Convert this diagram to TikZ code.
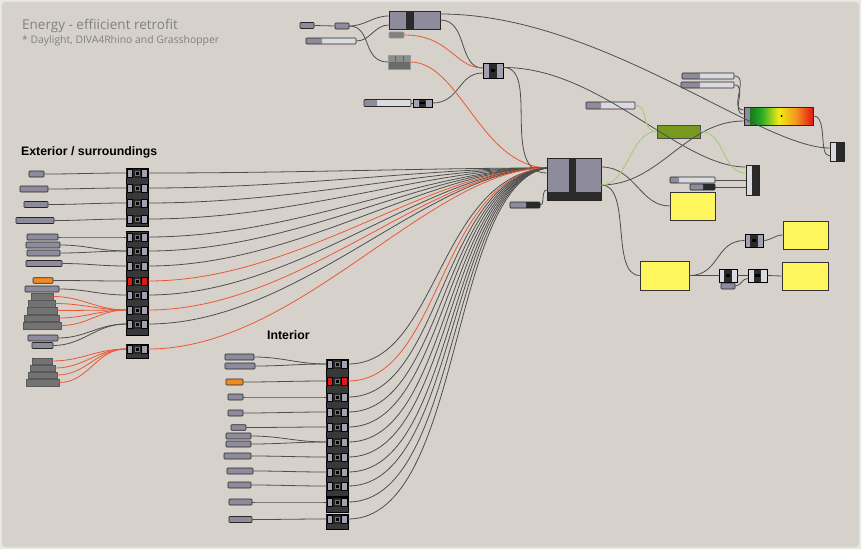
\documentclass[tikz,border=0pt]{standalone}
\usepackage{fontspec}
\setmainfont{Liberation Sans}
\newfontfamily\titlefont{Open Sans}
\usepackage{tikz}
\usetikzlibrary{calc}

\definecolor{frame}{RGB}{233,231,227}
\definecolor{panel}{RGB}{214,210,203}
\definecolor{paramfill}{RGB}{142,140,156}
\definecolor{paramlt}{RGB}{218,218,225}
\definecolor{compdk}{RGB}{42,42,42}
\definecolor{complt}{RGB}{163,161,176}
\definecolor{orangebox}{RGB}{242,138,36}
\definecolor{redbox}{RGB}{220,26,26}
\definecolor{wiredk}{RGB}{78,78,78}
\definecolor{wirered}{RGB}{234,88,52}
\definecolor{wiregreen}{RGB}{168,202,118}
\definecolor{panelyel}{RGB}{255,245,92}
\definecolor{greenbox}{RGB}{118,153,30}
\definecolor{heatA}{RGB}{8,100,20}
\definecolor{heatB}{RGB}{40,170,40}
\definecolor{heatC}{RGB}{240,236,20}
\definecolor{heatD}{RGB}{245,150,30}
\definecolor{heatE}{RGB}{228,20,20}
\pgfdeclarehorizontalshading{heat}{100bp}{color(0bp)=(heatA); color(25bp)=(heatA); color(37.5bp)=(heatB); color(50bp)=(heatC); color(62.5bp)=(heatD); color(75bp)=(heatE); color(100bp)=(heatE)}

\tikzset{
  param/.style={draw=black!85, fill=paramfill, rounded corners=0.8pt, inner sep=0pt, minimum height=6pt, line width=0.6pt},
  stackbox/.style={draw=black!65, fill=black!55, inner sep=0pt, minimum height=6.5pt, line width=0.5pt},
  slider/.style={param, fill=paramlt, path picture={\fill[paramfill] (path picture bounding box.south west) rectangle ([xshift=#1]path picture bounding box.north west);}},
  toggle/.style={param, fill=compdk, path picture={\fill[paramfill] (path picture bounding box.south west) rectangle ([xshift=#1]path picture bounding box.north west);}},
  comp/.style={fill=black!85, inner sep=0pt, minimum width=22pt, minimum height=9pt, path picture={
    \filldraw[fill=#1, draw=black] ([xshift=1pt,yshift=0.5pt]path picture bounding box.south west) rectangle ++(5.5pt,8pt);
    \filldraw[fill=#1, draw=black] ([xshift=-1pt,yshift=0.5pt]path picture bounding box.south east) rectangle ++(-5.5pt,8pt);
    \filldraw[fill=black, draw=black!55] ([shift={(-2.2pt,-2.2pt)}]path picture bounding box.center) rectangle ++(4.4pt,4.4pt);}},
  comp/.default=complt,
  mini/.style={draw=black, fill=compdk, inner sep=0pt, line width=0.6pt, path picture={
    \fill[#1] (path picture bounding box.south west) rectangle ($(path picture bounding box.north west)!0.3!(path picture bounding box.north east)$);
    \fill[#1] (path picture bounding box.south east) rectangle ($(path picture bounding box.north east)!0.3!(path picture bounding box.north west)$);
    \fill[black] ($(path picture bounding box.south west)!0.38!(path picture bounding box.north east)$) rectangle ($(path picture bounding box.south west)!0.62!(path picture bounding box.north east)$);}},
  mini/.default=complt,
  split/.style={draw=black!85, fill=paramlt, line width=0.7pt, inner sep=0pt, path picture={\fill[compdk] ([xshift=#1]path picture bounding box.north west) rectangle (path picture bounding box.south east);}},
  yelpanel/.style={draw=black!80, fill=panelyel, line width=0.8pt, inner sep=0pt},
  wire/.style={draw=wiredk, line width=0.8pt},
  redwire/.style={draw=wirered, line width=0.8pt},
  greenwire/.style={draw=wiregreen, line width=0.9pt}
}

\begin{document}
\begin{tikzpicture}[x=1pt,y=-1pt]
\useasboundingbox (0,0) rectangle (861,549);
\fill[frame] (0,0) rectangle (861,549);
\filldraw[fill=panel,draw=black!18,rounded corners=4pt] (2,2) rectangle (859,547);

% titles
\node[anchor=base west,text=black!50,font=\titlefont\fontsize{13.5}{16}\selectfont,inner sep=0pt] (title) at (22,29) {Energy - effiicient retrofit};
\node[anchor=base west,text=black!50,font=\titlefont\fontsize{10.4}{12}\selectfont,inner sep=0pt] (subtitle) at (22,43) {* Daylight, DIVA4Rhino and Grasshopper};
\node[anchor=base west,font=\bfseries\fontsize{12.3}{14}\selectfont,inner sep=0pt] (exterior) at (21,155) {Exterior / surroundings};
\node[anchor=base west,font=\bfseries\fontsize{12.3}{14}\selectfont,inner sep=0pt] (interior) at (267,339) {Interior};

% top cluster
\node[param, minimum width=14pt] (topa) at (307,25.5) {};
\node[param, minimum width=14pt] (topb) at (342,26) {};
\node[slider=16pt, minimum width=50pt] (topsl) at (331,41) {};
\node[draw=black!85, fill=paramfill, line width=0.7pt, minimum width=51pt, minimum height=18pt, inner sep=0pt, path picture={\fill[compdk] ([xshift=17pt]path picture bounding box.north west) rectangle ([xshift=25pt]path picture bounding box.south west);}] (bigtop) at (414.5,20) {};
\node[param, fill=black!50, draw=black!40, minimum width=15pt] (topsm) at (396.5,35) {};
\node[draw=black!40, fill=black!58, minimum width=22pt, minimum height=14pt, inner sep=0pt, path picture={
  \fill[black!45] (path picture bounding box.north west) rectangle ([yshift=7pt]path picture bounding box.south east);
  \draw[black!62] ([xshift=7pt]path picture bounding box.north west) -- ++(0,-7pt);
  \draw[black!62] ([xshift=15pt]path picture bounding box.north west) -- ++(0,-7pt);}] (topgrey) at (399,62) {};
\node[mini, minimum width=20pt, minimum height=15pt] (midc) at (493,70.5) {};
\node[slider=13pt, minimum width=47pt, minimum height=7pt] (lowsl) at (387.5,103) {};
\node[mini, minimum width=19pt, minimum height=8pt] (lowc) at (422.5,103) {};

% central component
\node[draw=black!85, fill=paramfill, line width=0.7pt, minimum width=54pt, minimum height=42pt, inner sep=0pt, path picture={
  \fill[compdk] ([xshift=22pt]path picture bounding box.north west) rectangle ([xshift=29pt,yshift=8pt]path picture bounding box.south west);
  \fill[compdk] (path picture bounding box.south west) rectangle ([yshift=8pt]path picture bounding box.south east);}] (cen) at (574,179) {};
\node[toggle=16pt, minimum width=30pt] (censl) at (525,205) {};

% right side
\node[slider=18pt, minimum width=52pt] (rsl1) at (708,76) {};
\node[slider=19pt, minimum width=53pt] (rsl2) at (707.5,85) {};
\node[draw=black!85, fill=paramfill, line width=0.7pt, minimum width=69pt, minimum height=18pt, inner sep=0pt, path picture={
  \shade[shading=heat] ([xshift=6pt]path picture bounding box.south west) rectangle (path picture bounding box.north east);
  \fill[black] ([xshift=3pt]path picture bounding box.center) circle (1pt);}] (grad) at (778.5,116) {};
\node[split=6pt, minimum width=14pt, minimum height=19pt] (rcomp) at (837,151.5) {};
\node[draw=black!70, fill=greenbox, minimum width=43pt, minimum height=13pt, inner sep=0pt, line width=0.7pt] (green) at (678.5,131.5) {};
\node[slider=15pt, minimum width=49pt, minimum height=7pt] (msl) at (610.5,105.5) {};
\node[split=6pt, minimum width=13pt, minimum height=30pt] (vcomp) at (752.5,180) {};
\node[slider=9pt, minimum width=45pt] (sla) at (692.5,180) {};
\node[toggle=13pt, minimum width=25pt] (slb) at (702.5,187) {};
\node[yelpanel, minimum width=45pt, minimum height=28pt] (yel1) at (692.5,206) {};
\node[yelpanel, minimum width=45pt, minimum height=28pt] (yel2) at (805.5,235) {};
\node[yelpanel, minimum width=49pt, minimum height=29pt] (yel3) at (664.5,275.5) {};
\node[yelpanel, minimum width=46pt, minimum height=28pt] (yel4) at (805,276) {};
\node[mini, minimum width=18pt, minimum height=13pt] (c1) at (754,240.5) {};
\node[mini=paramlt, minimum width=18pt, minimum height=13pt] (c2) at (728,275.5) {};
\node[mini=paramlt, minimum width=19pt, minimum height=13pt] (c3) at (757.5,275.5) {};
\node[param, minimum width=14pt] (csl) at (728,286) {};

% exterior column
\filldraw[fill=black!78,draw=black] (126,168) rectangle (148,226.5);
\filldraw[fill=black!78,draw=black] (126,231.5) rectangle (148,335);
\filldraw[fill=black!78,draw=black] (126,344.5) rectangle (148,358.5);
\node[comp] (ext1) at (137,173) {};
\node[comp] (ext2) at (137,188) {};
\node[comp] (ext3) at (137,203) {};
\node[comp] (ext4) at (137,219) {};
\node[comp] (ext5) at (137,237) {};
\node[comp] (ext6) at (137,251) {};
\node[comp] (ext7) at (137,266) {};
\node[comp=redbox] (ext8) at (137,281) {};
\node[comp] (ext9) at (137,295) {};
\node[comp] (ext10) at (137,310) {};
\node[comp] (ext11) at (137,324) {};
\node[comp] (ext12) at (137,349) {};

\node[param, minimum width=15pt] (e1) at (36.5,174) {};
\node[param, minimum width=28pt] (e2) at (34,189) {};
\node[param, minimum width=24pt] (e3) at (36,204.5) {};
\node[param, minimum width=38pt] (e4) at (35,220.5) {};
\node[param, minimum width=31pt] (e5) at (42.5,237) {};
\node[param, minimum width=34pt] (e6) at (43,245) {};
\node[param, minimum width=33pt] (e7) at (43.5,253) {};
\node[param, minimum width=36pt] (e8) at (44,263.5) {};
\node[param, fill=orangebox, minimum width=20pt, minimum height=5.5pt] (eor) at (43,280.5) {};
\node[param, minimum width=34pt] (e9) at (42,289) {};
\node[stackbox, minimum width=22pt] (s1) at (42,296.5) {};
\node[stackbox, minimum width=27pt] (s2) at (41.5,303.5) {};
\node[stackbox, minimum width=30pt] (s3) at (42,310.5) {};
\node[stackbox, minimum width=35pt] (s4) at (41.5,318) {};
\node[stackbox, minimum width=38pt, minimum height=7pt] (s5) at (42,325.5) {};
\node[param, minimum width=30pt] (e10) at (43,338) {};
\node[param, minimum width=21pt] (e11) at (42.5,345.5) {};
\node[stackbox, minimum width=20pt] (t1) at (42,361) {};
\node[stackbox, minimum width=25pt] (t2) at (42.5,368) {};
\node[stackbox, minimum width=29pt] (t3) at (42.5,375) {};
\node[stackbox, minimum width=33pt, minimum height=7pt] (t4) at (42.5,382.5) {};

% interior column
\filldraw[fill=black!78,draw=black] (326,359.5) rectangle (348,496);
\filldraw[fill=black!78,draw=black] (326,497.5) rectangle (348,512.5);
\filldraw[fill=black!78,draw=black] (326,514.5) rectangle (348,529.5);
\node[comp] (int1) at (337,364) {};
\node[comp=redbox] (int2) at (337,381) {};
\node[comp] (int3) at (337,397) {};
\node[comp] (int4) at (337,412) {};
\node[comp] (int5) at (337,427) {};
\node[comp] (int6) at (337,442) {};
\node[comp] (int7) at (337,457) {};
\node[comp] (int8) at (337,472) {};
\node[comp] (int9) at (337,486) {};
\node[comp] (int10) at (337,502) {};
\node[comp] (int11) at (337,519) {};

\node[param, minimum width=29pt] (n1a) at (239.5,357) {};
\node[param, minimum width=30pt] (n1b) at (240,366) {};
\node[param, fill=orangebox, minimum width=17pt] (nor) at (234.5,382) {};
\node[param, minimum width=15pt] (n3) at (235.5,397) {};
\node[param, minimum width=15pt] (n4) at (235.5,413) {};
\node[param, minimum width=15pt, minimum height=5.5pt] (n5) at (238.5,427.5) {};
\node[param, minimum width=25pt] (n6a) at (238.5,436) {};
\node[param, minimum width=25pt] (n6b) at (238.5,444) {};
\node[param, minimum width=27pt] (n7) at (237.5,456) {};
\node[param, minimum width=26pt] (n8) at (240,471) {};
\node[param, minimum width=23pt] (n9) at (239.5,485) {};
\node[param, minimum width=23pt] (n10) at (240.5,502) {};
\node[param, minimum width=23pt] (n11) at (240.5,519.5) {};

% wires top cluster
\draw[wire] (topa.east) -- (topb.west);
\draw[wire] (topb.east) to[out=0,in=180] ([yshift=4pt]bigtop.west);
\draw[wire] (topb.east) .. controls (372,26) and (362,62) .. (topgrey.west);
\draw[wire] (topsl.east) to[out=0,in=180] ([yshift=-5pt]bigtop.west);
\draw[wire] (bigtop.east) .. controls (468,20) and (458,68) .. ([yshift=2.5pt]midc.west);
\draw[redwire] (topsm.east) .. controls (450,35) and (455,68) .. ([yshift=2.5pt]midc.west);
\draw[wire] (lowsl.east) -- (lowc.west);
\draw[wire] (lowc.east) .. controls (460,103) and (458,73) .. ([yshift=-2.5pt]midc.west);
\draw[redwire] (topgrey.east) .. controls (460,62) and (480,165) .. ([yshift=11pt]cen.west);
\draw[wire] ([yshift=3pt]midc.east) .. controls (540,67) and (500,173) .. ([yshift=6pt]cen.west);
\draw[wire] ([yshift=6pt]bigtop.east) .. controls (600,14) and (760,148) .. ([yshift=3.5pt]rcomp.west);
\draw[wire] ([yshift=3pt]midc.east) .. controls (600,67) and (680,167) .. ([yshift=13pt]vcomp.west);
\draw[wire] (censl.east) .. controls (545,205) and (541,190) .. ([yshift=-11pt]cen.west);

% wires right side
\draw[wire] ([yshift=12pt]cen.east) .. controls (635,167) and (640,206) .. (yel1.west);
\draw[wire] ([yshift=-6pt]cen.east) .. controls (660,185) and (685,121) .. ([yshift=-5pt]grad.west);
\draw[wire] ([yshift=-6pt]cen.east) .. controls (632,185) and (610,275) .. (yel3.west);
\draw[greenwire] (msl.east) .. controls (650,105.5) and (640,131.5) .. (green.west);
\draw[greenwire] (green.west) .. controls (630,131.5) and (628,185) .. ([yshift=-6pt]cen.east);
\draw[greenwire] (green.east) .. controls (725,131.5) and (722,173) .. ([yshift=7pt]vcomp.west);
\draw[wire] (rsl1.east) .. controls (750,76) and (728,110) .. ([yshift=6pt]grad.west);
\draw[wire] (rsl2.east) .. controls (748,85) and (730,114) .. ([yshift=2pt]grad.west);
\draw[wire] (grad.east) .. controls (828,116) and (818,156) .. ([yshift=-4.5pt]rcomp.west);
\draw[wire] (sla.east) -- (vcomp.west);
\draw[wire] (slb.east) -- ([yshift=-7pt]vcomp.west);
\draw[wire] (yel3.east) .. controls (720,275.5) and (715,240.5) .. (c1.west);
\draw[wire] (yel3.east) -- (c2.west);
\draw[wire] (c1.east) to[out=0,in=180] (yel2.west);
\draw[wire] (c2.east) -- (c3.west);
\draw[wire] (csl.east) to[out=0,in=180] ([yshift=-3pt]c3.west);
\draw[wire] (c3.east) -- (yel4.west);

% wires exterior inputs
\draw[wire] (e1.east) to[out=0,in=180] (ext1.west);
\draw[wire] (e2.east) to[out=0,in=180] (ext2.west);
\draw[wire] (e3.east) to[out=0,in=180] (ext3.west);
\draw[wire] (e4.east) to[out=0,in=180] (ext4.west);
\draw[wire] (e5.east) to[out=0,in=180] (ext5.west);
\draw[wire] (e6.east) to[out=0,in=180] (ext6.west);
\draw[wire] (e7.east) to[out=0,in=180] (ext6.west);
\draw[wire] (e8.east) to[out=0,in=180] (ext7.west);
\draw[wire] (eor.east) to[out=0,in=180] (ext8.west);
\draw[wire] (e9.east) to[out=0,in=180] (ext9.west);
\draw[redwire] (s1.east) to[out=0,in=180] (ext10.west);
\draw[redwire] (s2.east) to[out=0,in=180] (ext10.west);
\draw[redwire] (s3.east) to[out=0,in=180] (ext10.west);
\draw[redwire] (s4.east) to[out=0,in=180] (ext10.west);
\draw[redwire] (s5.east) to[out=0,in=180] (ext10.west);
\draw[wire] (e10.east) to[out=0,in=180] (ext11.west);
\draw[wire] (e11.east) to[out=0,in=180] (ext11.west);
\draw[redwire] (t1.east) to[out=0,in=180] (ext12.west);
\draw[redwire] (t2.east) to[out=0,in=180] (ext12.west);
\draw[redwire] (t3.east) to[out=0,in=180] (ext12.west);
\draw[redwire] (t4.east) to[out=0,in=180] (ext12.west);

% wires exterior to central
\draw[wire] (ext1.east) .. controls (300,173) and (430,168) .. ([yshift=11pt]cen.west);
\draw[wire] (ext2.east) .. controls (300,188) and (430,168) .. ([yshift=11pt]cen.west);
\draw[wire] (ext3.east) .. controls (300,203) and (430,168) .. ([yshift=11pt]cen.west);
\draw[wire] (ext4.east) .. controls (300,219) and (430,168) .. ([yshift=11pt]cen.west);
\draw[wire] (ext5.east) .. controls (300,237) and (430,168) .. ([yshift=11pt]cen.west);
\draw[wire] (ext6.east) .. controls (300,251) and (430,168) .. ([yshift=11pt]cen.west);
\draw[wire] (ext7.east) .. controls (300,266) and (430,168) .. ([yshift=11pt]cen.west);
\draw[redwire] (ext8.east) .. controls (300,281) and (430,168) .. ([yshift=11pt]cen.west);
\draw[wire] (ext9.east) .. controls (300,295) and (430,168) .. ([yshift=11pt]cen.west);
\draw[redwire] (ext10.east) .. controls (300,310) and (430,168) .. ([yshift=11pt]cen.west);
\draw[wire] (ext11.east) .. controls (300,324) and (430,168) .. ([yshift=11pt]cen.west);
\draw[redwire] (ext12.east) .. controls (300,349) and (430,168) .. ([yshift=11pt]cen.west);

% wires interior inputs
\draw[wire] (n1a.east) to[out=0,in=180] (int1.west);
\draw[wire] (n1b.east) to[out=0,in=180] (int1.west);
\draw[wire] (nor.east) to[out=0,in=180] (int2.west);
\draw[wire] (n3.east) to[out=0,in=180] (int3.west);
\draw[wire] (n4.east) to[out=0,in=180] (int4.west);
\draw[wire] (n5.east) to[out=0,in=180] (int5.west);
\draw[wire] (n6a.east) to[out=0,in=180] (int6.west);
\draw[wire] (n6b.east) to[out=0,in=180] (int6.west);
\draw[wire] (n7.east) to[out=0,in=180] (int7.west);
\draw[wire] (n8.east) to[out=0,in=180] (int8.west);
\draw[wire] (n9.east) to[out=0,in=180] (int9.west);
\draw[wire] (n10.east) to[out=0,in=180] (int10.west);
\draw[wire] (n11.east) to[out=0,in=180] (int11.west);

% wires interior to central
\draw[wire] (int1.east) .. controls (438,364) and (438,176) .. ([yshift=11pt]cen.west);
\draw[redwire] (int2.east) .. controls (441,381) and (439,177) .. ([yshift=11pt]cen.west);
\draw[wire] (int3.east) .. controls (443,397) and (440,178) .. ([yshift=11pt]cen.west);
\draw[wire] (int4.east) .. controls (446,412) and (441,179) .. ([yshift=11pt]cen.west);
\draw[wire] (int5.east) .. controls (448,427) and (442,180) .. ([yshift=11pt]cen.west);
\draw[wire] (int6.east) .. controls (451,442) and (443,181) .. ([yshift=11pt]cen.west);
\draw[wire] (int7.east) .. controls (453,457) and (444,182) .. ([yshift=11pt]cen.west);
\draw[wire] (int8.east) .. controls (456,472) and (445,183) .. ([yshift=11pt]cen.west);
\draw[wire] (int9.east) .. controls (458,486) and (446,184) .. ([yshift=11pt]cen.west);
\draw[wire] (int10.east) .. controls (461,502) and (447,185) .. ([yshift=11pt]cen.west);
\draw[wire] (int11.east) .. controls (464,519) and (448,186) .. ([yshift=11pt]cen.west);
\end{tikzpicture}
\end{document}
